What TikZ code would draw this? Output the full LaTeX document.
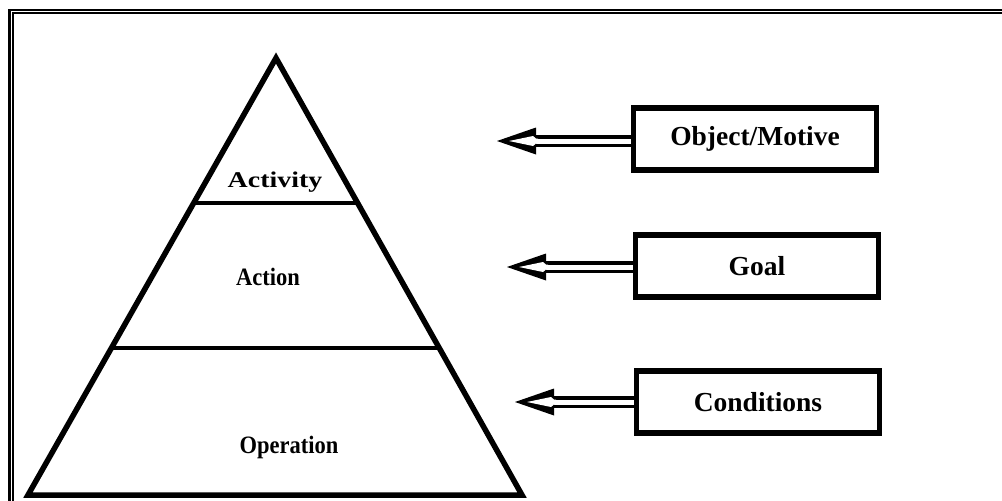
\documentclass[tikz,border=0pt]{standalone}
\usepackage{fontspec}
\setmainfont{Liberation Serif}
\newfontfamily\wideserif{Liberation Serif}[FakeStretch=1.24]
\newfontfamily\narrowserif{Liberation Serif}[FakeStretch=0.9]
\usetikzlibrary{positioning,calc}
\tikzset{
    x=1pt,
    y=-1pt,
    block/.style = {
        draw,
        shape=rectangle,
        minimum height=62pt,
        minimum width=243pt,
        line width=5.5pt,
        font=\fontsize{27.5}{32}\selectfont\bfseries
    },
    level/.style = {
        font=\narrowserif\fontsize{25}{29}\selectfont\bfseries
    },
    link/.style = {
        draw,
        double,
        line width=3.5pt,
        double distance=5pt
    },
}

\begin{document}
\begin{tikzpicture}
            \useasboundingbox (0,0) rectangle (1002,501);
            % frame
            \path[draw, line width=2.8pt] (9.5,501) -- (9.5,10) -- (1002,10);
            \path[draw, line width=2pt] (13,501) -- (13,13) -- (1002,13);

            % pyramid
            \coordinate (apex) at (276,58);
            \coordinate (baseL) at (28,495);
            \coordinate (baseR) at (522,495);
            \coordinate (topL) at ($(apex)!0.332!(baseL)$);
            \coordinate (topR) at ($(apex)!0.332!(baseR)$);
            \coordinate (midL) at ($(apex)!0.664!(baseL)$);
            \coordinate (midR) at ($(apex)!0.664!(baseR)$);
            \path[draw, line width=5.5pt, line join=miter] (apex) -- (baseR) -- (baseL) -- cycle;
            \path[draw, line width=4.5pt] (topL) -- (topR);
            \path[draw, line width=4.5pt] (midL) -- (midR);

            \node[level, font=\wideserif\fontsize{22.5}{26}\selectfont\bfseries] (activity) at (275,182) {Activity};
            \node[level] (action) at (268,277) {Action};
            \node[level] (operation) at (289,447) {Operation};

            % boxes
            \node[block] (motive) at (755,139) {Object/Motive};
            \node[block] (goal) at (757,266) {Goal};
            \node[block] (cond) at (758,402) {Conditions};

            \coordinate (motivetip) at (497,141);
            \coordinate (goaltip) at (507,267);
            \coordinate (condtip) at (515,402);
            \path[link] (motive.west |- motivetip) -- ($(motivetip)+(38,0)$);
            \path[link] (goal.west |- goaltip) -- ($(goaltip)+(38,0)$);
            \path[link] (cond.west |- condtip) -- ($(condtip)+(38,0)$);

            % open heads
            \foreach \t in {motivetip,goaltip,condtip}{
                \path[fill=black] (\t) -- ++(39,-13.5) -- ++(0,27) -- cycle;
                \path[fill=white] ($(\t)+(12,0)$) -- ++(24,-5) -- ++(3,2.5) -- ++(2,0)
                    -- ++(0,5) -- ++(-2,0) -- ++(-3,2.5) -- cycle;
            }
        \end{tikzpicture}
\end{document}
